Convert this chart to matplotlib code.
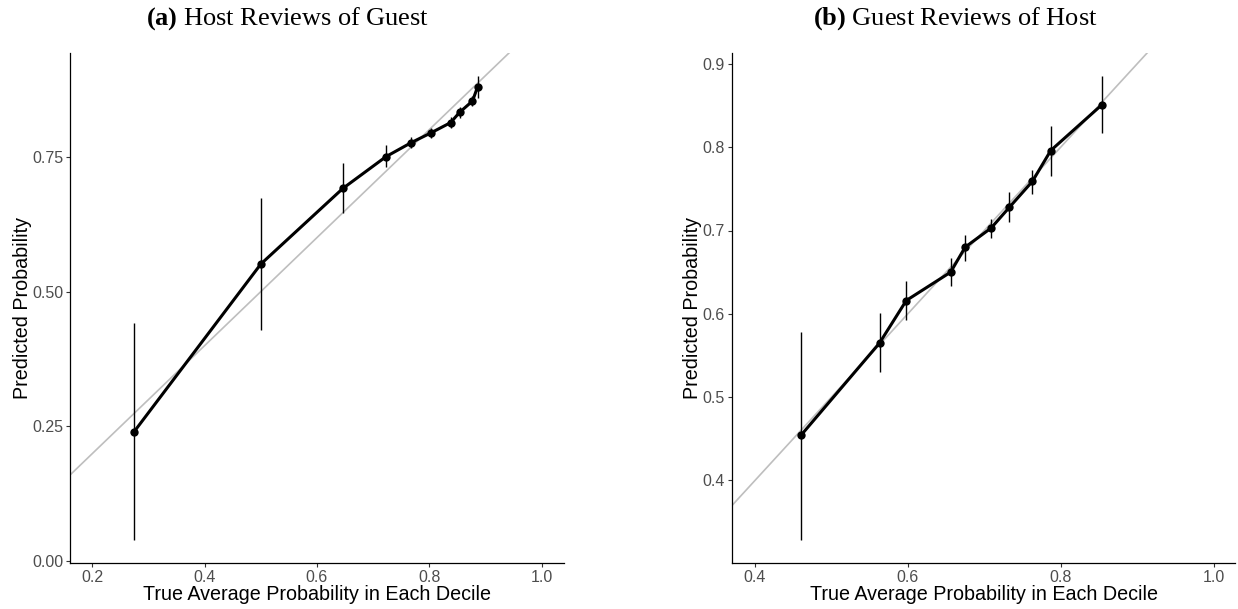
import matplotlib
matplotlib.use("Agg")
import matplotlib.pyplot as plt

plt.rcParams['font.family'] = ['Liberation Sans', 'DejaVu Sans']
plt.rcParams['mathtext.fontset'] = 'custom'
plt.rcParams['mathtext.rm'] = 'Liberation Serif'
plt.rcParams['mathtext.bf'] = 'Liberation Serif:bold'

# (a) Host reviews of guest: decile means, predicted probability and interval
host_true = [0.274, 0.500, 0.646, 0.723, 0.768, 0.803, 0.838, 0.854, 0.877, 0.886]
host_pred = [0.240, 0.551, 0.691, 0.750, 0.776, 0.794, 0.813, 0.832, 0.853, 0.879]
host_low = [0.040, 0.428, 0.645, 0.730, 0.766, 0.785, 0.803, 0.822, 0.843, 0.858]
host_high = [0.442, 0.674, 0.738, 0.771, 0.786, 0.803, 0.823, 0.842, 0.863, 0.900]

# (b) Guest reviews of host
guest_true = [0.460, 0.563, 0.598, 0.656, 0.675, 0.709, 0.733, 0.763, 0.787, 0.854]
guest_pred = [0.454, 0.565, 0.616, 0.650, 0.680, 0.703, 0.728, 0.759, 0.796, 0.851]
guest_low = [0.329, 0.530, 0.593, 0.633, 0.663, 0.691, 0.710, 0.744, 0.765, 0.817]
guest_high = [0.578, 0.601, 0.640, 0.667, 0.695, 0.714, 0.746, 0.773, 0.826, 0.885]

panels = [
    dict(label='a', title='Host Reviews of Guest', x=host_true, y=host_pred,
         lo=host_low, hi=host_high, xlim=(0.16, 1.04), ylim=(-0.003, 0.942),
         xticks=[0.2, 0.4, 0.6, 0.8, 1.0], yticks=[0.0, 0.25, 0.5, 0.75],
         yfmt='{:.2f}', rect=[70, 53, 564, 563], title_x=288, ylab_x=22),
    dict(label='b', title='Guest Reviews of Host', x=guest_true, y=guest_pred,
         lo=guest_low, hi=guest_high, xlim=(0.37, 1.028), ylim=(0.301, 0.913),
         xticks=[0.4, 0.6, 0.8, 1.0], yticks=[0.4, 0.5, 0.6, 0.7, 0.8, 0.9],
         yfmt='{:.1f}', rect=[732, 53, 1235, 563], title_x=955, ylab_x=692),
]

W, H = 1238, 609
fig = plt.figure(figsize=(W / 100, H / 100), dpi=100)

for p in panels:
    l, t, r, b = p['rect']
    ax = fig.add_axes([l / W, 1 - b / H, (r - l) / W, (b - t) / H])
    ax.axline((0, 0), slope=1, color='#bebebe', lw=1.2, zorder=1)
    ax.vlines(p['x'], p['lo'], p['hi'], color='black', lw=1.0, zorder=2)
    ax.plot(p['x'], p['y'], color='black', lw=2.2, zorder=3)
    ax.scatter(p['x'], p['y'], s=36, color='black', zorder=4, linewidths=0)
    ax.set_xlim(*p['xlim'])
    ax.set_ylim(*p['ylim'])
    ax.set_xticks(p['xticks'])
    ax.set_xticklabels(['{:.1f}'.format(v) for v in p['xticks']])
    ax.set_yticks(p['yticks'])
    ax.set_yticklabels([p['yfmt'].format(v) for v in p['yticks']])
    for side in ('top', 'right'):
        ax.spines[side].set_visible(False)
    for side in ('left', 'bottom'):
        ax.spines[side].set_linewidth(0.9)
        ax.spines[side].set_color('black')
    ax.tick_params(axis='both', length=3, width=0.8, color='#333333',
                   labelcolor='#4d4d4d', labelsize=11.5, pad=2)
    ax.set_xlabel('True Average Probability in Each Decile', fontsize=14.2,
                  labelpad=0)
    fig.text(p['ylab_x'] / W, 1 - ((t + b) / 2) / H, 'Predicted Probability',
             rotation=90, fontsize=14.2, ha='center', va='center')
    fig.text(p['title_x'] / W, 1 - 19 / H,
             r'$\mathbf{(' + p['label'] + r')}$ ' + p['title'],
             fontsize=19, family='Liberation Serif', ha='center', va='center')

fig.savefig('out.png', dpi=100)
